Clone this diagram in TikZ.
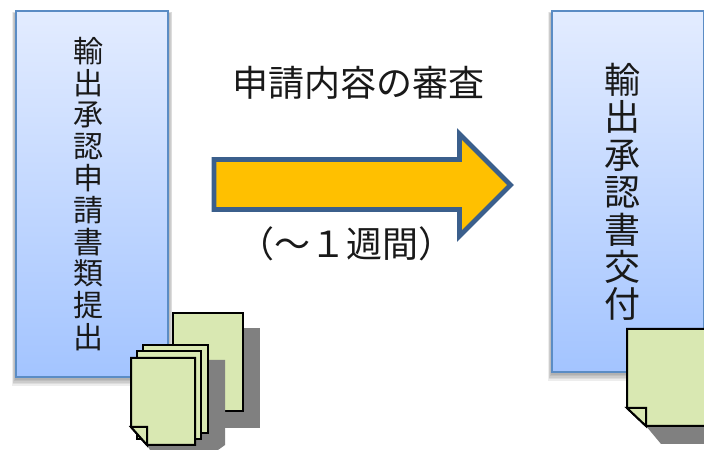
\documentclass[tikz,border=0pt]{standalone}
\usepackage{fontspec}
\setmainfont{Noto Sans CJK JP}
\tikzset{
  x=0.75pt,y=-0.75pt,
  panel/.style={draw=boxedge,line width=1.5pt,top color=boxtop,bottom color=boxbot,shading angle=0},
  softshadow/.style={fill=black,fill opacity=0.07,draw=none},
  paper/.style={draw=black,line width=1.5pt,fill=paperfill,line join=miter},
  papershadow/.style={fill=shadowgrey,draw=none},
  bigarrow/.style={draw=arrowedge,line width=3.6pt,fill=arrowfill,line join=miter},
  label/.style={inner sep=0pt,text=black!90,align=center}
}
\definecolor{boxedge}{HTML}{5B8CC4}
\definecolor{boxtop}{HTML}{E3ECFF}
\definecolor{boxbot}{HTML}{A3C4FF}
\definecolor{paperfill}{HTML}{D9E8B2}
\definecolor{shadowgrey}{HTML}{808080}
\definecolor{arrowedge}{HTML}{3B5F8C}
\definecolor{arrowfill}{HTML}{FFC000}
\begin{document}
\begin{tikzpicture}
\useasboundingbox (0,0) rectangle (704,452);
\clip (0,0) rectangle (704,452);
% soft shadows of the panels
\foreach \d in {1,2,...,6}{
  \fill[softshadow] ({16-\d*0.7},{11+3-\d*0.3}) rectangle ({168+\d*0.7},{377+\d*1.5});
  \fill[softshadow] ({552-\d*0.7},{11+3-\d*0.3}) rectangle ({704+\d*0.7},{372+\d*1.5});
}
% panels
\path[panel] (16,11) rectangle (168,377);
\path[panel] (552,11) rectangle (703.5,372);
% labels in panels
\node[label,font=\fontsize{22.5pt}{23.85pt}\selectfont] (leftlabel) at (88.5,194) {輸\\出\\承\\認\\申\\請\\書\\類\\提\\出};
\node[label,font=\fontsize{27pt}{28.05pt}\selectfont] (rightlabel) at (622,192) {輸\\出\\承\\認\\書\\交\\付};
% single back page
\fill[papershadow] (190,328) rectangle (260,428);
\path[paper] (173,313) rectangle (243,411);
% stacked pages
\fill[papershadow] (160,360) -- (225,360) -- (225,445) -- (218,450) -- (150,450) -- (147,445) -- cycle;
\path[paper] (143,345) rectangle (208,433);
\path[paper] (137,351) rectangle (201,439);
\path[paper] (131,358) -- (195,358) -- (195,445) -- (147,445) -- (131,427) -- cycle;
\path[paper] (131,427) -- (147,427) -- (147,445) -- cycle;
% right page
\fill[papershadow] (646,426) -- (661,444) -- (704,444) -- (704,420) -- cycle;
\path[paper] (627,329) -- (706,329) -- (706,426) -- (646,426) -- (627,408) -- cycle;
\path[paper] (627,408) -- (646,408) -- (646,426) -- cycle;
% arrow
\path[bigarrow] (214,159.5) -- (459.5,159.5) -- (459.5,134) -- (510.5,185) -- (459.5,236) -- (459.5,209.5) -- (214,209.5) -- cycle;
% captions
\node[label,font=\fontsize{27pt}{27pt}\selectfont] (review) at (358,83) {申請内容の審査};
\node[label,font=\fontsize{27pt}{27pt}\selectfont] (period) at (346,244) {（～１週間）};
\end{tikzpicture}
\end{document}
